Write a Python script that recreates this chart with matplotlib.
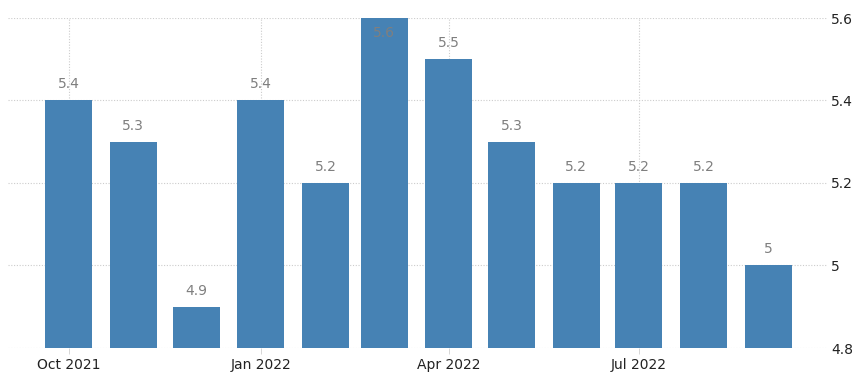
import matplotlib
matplotlib.use("Agg")
import matplotlib.pyplot as plt
import matplotlib.dates as mdates
from datetime import datetime, timedelta

months = ["2021-10", "2021-11", "2021-12", "2022-01", "2022-02", "2022-03",
          "2022-04", "2022-05", "2022-06", "2022-07", "2022-08", "2022-09"]
values = [5.4, 5.3, 4.9, 5.4, 5.2, 5.6, 5.5, 5.3, 5.2, 5.2, 5.2, 5.0]
value_labels = ["5.4", "5.3", "4.9", "5.4", "5.2", "5.6", "5.5", "5.3", "5.2", "5.2", "5.2", "5"]
xtick_months = ["2021-10", "2022-01", "2022-04", "2022-07"]
xtick_labels = ["Oct 2021", "Jan 2022", "Apr 2022", "Jul 2022"]
yticks = [4.8, 5.0, 5.2, 5.4, 5.6]
ytick_labels = ["4.8", "5", "5.2", "5.4", "5.6"]

dates = [datetime.strptime(m, "%Y-%m") for m in months]
xt = [datetime.strptime(m, "%Y-%m") for m in xtick_months]

fig = plt.figure(figsize=(8.61, 3.79), dpi=100)
ax = fig.add_axes([8/861, 31/379, (827-8)/861, (348-18)/379])

bar_color = "#4682b4"
bottom = 4.8
ax.bar(mdates.date2num(dates), [v - bottom for v in values], bottom=bottom,
       width=22.5, color=bar_color, zorder=2)

ymax = 5.6
for d, v, lab in zip(dates, values, value_labels):
    if v >= ymax:
        ax.annotate(lab, (mdates.date2num(d), v), xytext=(0, -5.5), textcoords="offset points",
                    ha="center", va="top", color="#7f7f7f", fontsize=10, zorder=3)
    else:
        ax.annotate(lab, (mdates.date2num(d), v), xytext=(0, 6.5), textcoords="offset points",
                    ha="center", va="bottom", color="#7f7f7f", fontsize=10, zorder=3)

ax.set_ylim(4.8, 5.6)
ax.set_xlim(mdates.date2num(datetime(2021, 9, 2)), mdates.date2num(datetime(2022, 9, 29)))

ax.set_yticks(yticks)
ax.set_yticklabels(ytick_labels)
ax.yaxis.tick_right()
ax.tick_params(axis="y", length=0, pad=3, labelsize=10, labelcolor="#222222")

ax.set_xticks(mdates.date2num(xt))
ax.set_xticklabels(xtick_labels)
ax.tick_params(axis="x", length=4, width=0.6, color="#d0d0d0", pad=3, labelsize=10, labelcolor="#222222")

ax.grid(True, linestyle=(0, (1, 1.5)), color="#cccccc", linewidth=0.8, zorder=0)
ax.set_axisbelow(True)
for s in ax.spines.values():
    s.set_visible(False)

fig.savefig("out.png", dpi=100)
